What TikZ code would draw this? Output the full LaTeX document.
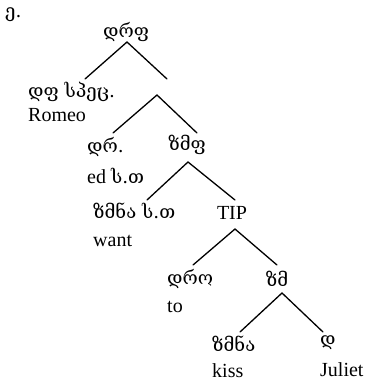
\documentclass[tikz,border=0pt]{standalone}
\usepackage{fontspec}
\setmainfont{Liberation Serif}
\newfontfamily\geo{DejaVu Serif}
\begin{document}
\begin{tikzpicture}[x=1pt,y=-1pt,
  lab/.style={inner sep=0pt,font=\fontsize{20}{24}\selectfont},
  glab/.style={lab,font=\fontsize{18.5}{24}\selectfont\geo},
  branch/.style={line width=1.3pt,line cap=round}]
\useasboundingbox (0,0) rectangle (365,386);
% labels
\node[glab,anchor=west] (ex) at (5,15) {ე.};
\node[glab] (root) at (126,32) {დრფ};
\node[glab,anchor=west] (dp) at (28,92) {დფ სპეც.};
\node[lab,anchor=west] (romeo) at (28,115) {Romeo};
\node[glab,anchor=west] (dr) at (87,147) {დრ.};
\node[lab,anchor=west] (ed) at (87,176) {ed {\fontsize{18.5}{24}\selectfont\geo ს.თ}};
\node[glab] (vp) at (187,145) {ზმფ};
\node[glab,anchor=west] (v1) at (93,211) {ზმნა ს.თ};
\node[lab,anchor=west] (want) at (93,241) {want};
\node[lab] (tip) at (232,213) {TIP};
\node[glab,anchor=west] (t) at (167,279) {დრო};
\node[lab,anchor=west] (to) at (167,307) {to};
\node[glab] (vbar) at (277,279) {ზმ};
\node[glab,anchor=west] (v2) at (212,344) {ზმნა};
\node[lab,anchor=west] (kiss) at (212,371) {kiss};
\node[glab,anchor=west] (d) at (320,343) {დ};
\node[lab,anchor=west] (juliet) at (320,370) {Juliet};
% branch points
\coordinate (root-b) at (127,42);
\coordinate (dp-t) at (85,79);
\coordinate (x-t) at (167,79);
\coordinate (x-b) at (157,95);
\coordinate (dr-t) at (113,133);
\coordinate (vp-t) at (197,133);
\coordinate (vp-b) at (188,162);
\coordinate (v1-t) at (147,200);
\coordinate (tip-t) at (235,200);
\coordinate (tip-b) at (235,229);
\coordinate (t-t) at (193,265);
\coordinate (vbar-t) at (277,265);
\coordinate (vbar-b) at (282,293);
\coordinate (v2-t) at (240,332);
\coordinate (d-t) at (323,332);
% branches
\draw[branch] (dp-t) -- (root-b) -- (x-t);
\draw[branch] (dr-t) -- (x-b) -- (vp-t);
\draw[branch] (v1-t) -- (vp-b) -- (tip-t);
\draw[branch] (t-t) -- (tip-b) -- (vbar-t);
\draw[branch] (v2-t) -- (vbar-b) -- (d-t);
\end{tikzpicture}
\end{document}
